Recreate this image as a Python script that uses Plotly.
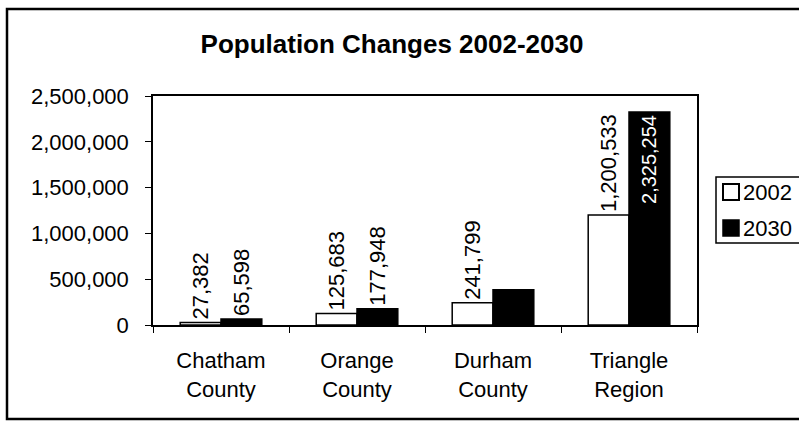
import plotly.graph_objects as go

categories = ["Chatham<br>County", "Orange<br>County", "Durham<br>County", "Triangle<br>Region"]
pop_2002 = [27382, 125683, 241799, 1200533]
pop_2030 = [65598, 177948, 385000, 2325254]
labels_2002 = ["27,382", "125,683", "241,799", "1,200,533"]
labels_2030 = ["65,598", "177,948", "", "2,325,254"]
y_ticks = [0, 500000, 1000000, 1500000, 2000000, 2500000]

W, H = 799, 424
L, R, T, B = 153, 697, 96, 325
FONT = "Liberation Sans, Arial, sans-serif"


def px(x):
    return (x - L) / (R - L)


def py(y):
    return (B - y) / (B - T)


fig = go.Figure()
fig.add_trace(go.Bar(
    x=categories, y=pop_2002, name="2002",
    marker=dict(color="white", line=dict(color="black", width=1.5)),
    text=labels_2002, textposition="outside", textangle=-90,
    constraintext="none",
    textfont=dict(family=FONT, size=22, color="black"),
    cliponaxis=False,
))
fig.add_trace(go.Bar(
    x=categories, y=pop_2030, name="2030",
    marker=dict(color="black", line=dict(color="black", width=1.5)),
    text=labels_2030,
    textposition=["outside", "outside", "none", "inside"],
    insidetextanchor="end", textangle=-90, constraintext="none",
    textfont=dict(family=FONT, size=[22, 22, 22, 20],
                  color=["black", "black", "black", "white"]),
    cliponaxis=False,
))

shapes = [
    # outer chart border
    dict(type="rect", xref="paper", yref="paper",
         x0=px(7), x1=px(830), y0=py(9), y1=py(419),
         line=dict(color="black", width=2.5), fillcolor="rgba(0,0,0,0)"),
    # legend box
    dict(type="rect", xref="paper", yref="paper",
         x0=px(716), x1=px(840), y0=py(177), y1=py(243),
         line=dict(color="black", width=1.5), fillcolor="white"),
    dict(type="rect", xref="paper", yref="paper",
         x0=px(723), x1=px(739), y0=py(184), y1=py(200),
         line=dict(color="black", width=2), fillcolor="white"),
    dict(type="rect", xref="paper", yref="paper",
         x0=px(723), x1=px(739), y0=py(220), y1=py(236),
         line=dict(color="black", width=1.5), fillcolor="black"),
]
annotations = [
    dict(text="2002", xref="paper", yref="paper", x=px(741), y=py(192),
         xanchor="left", yanchor="middle", showarrow=False,
         font=dict(family=FONT, size=22, color="black")),
    dict(text="2030", xref="paper", yref="paper", x=px(741), y=py(228),
         xanchor="left", yanchor="middle", showarrow=False,
         font=dict(family=FONT, size=22, color="black")),
]

fig.update_layout(
    width=W, height=H,
    margin=dict(l=L, r=W - R, t=T, b=H - B, pad=0, autoexpand=False),
    paper_bgcolor="white", plot_bgcolor="white",
    barmode="group", bargap=0.4, bargroupgap=0,
    showlegend=False,
    title=dict(text="<b>Population Changes 2002-2030</b>",
               x=392 / W, xref="container", xanchor="center",
               y=1 - 44 / H, yref="container", yanchor="middle",
               font=dict(family=FONT, size=26, color="black")),
    font=dict(family=FONT, size=22, color="black"),
    shapes=shapes, annotations=annotations,
)
fig.update_xaxes(
    showline=True, linecolor="black", linewidth=1.5, mirror=True,
    ticks="outside", tickson="boundaries", ticklen=6, tickcolor="black",
    tickfont=dict(family=FONT, size=22, color="black"),
    ticklabelstandoff=15, showgrid=False, automargin=False,
)
fig.update_yaxes(
    range=[0, 2500000], tickvals=y_ticks, tickformat=",d",
    showline=True, linecolor="black", linewidth=1.5, mirror=True,
    ticks="outside", ticklen=6, tickcolor="black",
    tickfont=dict(family=FONT, size=22, color="black"),
    ticklabelstandoff=12, showgrid=False, zeroline=False, automargin=False,
)

fig.write_html(
    "out.html",
    config={"displayModeBar": False},
    post_script="document.body.style.margin='0';document.body.style.overflow='hidden';",
)
